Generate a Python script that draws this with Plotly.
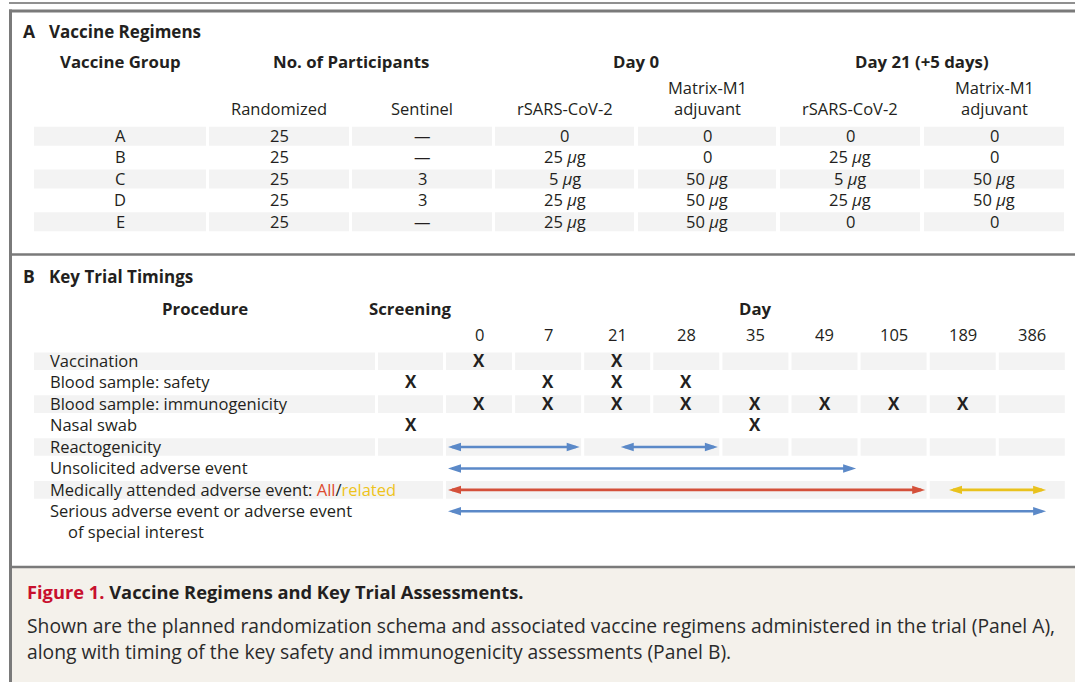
import plotly.graph_objects as go

# ---------------- data ----------------
groups = ["A", "B", "C", "D", "E"]
randomized = [25, 25, 25, 25, 25]
sentinel = [None, None, 3, 3, None]
day0_rsars = [0, 25, 5, 25, 25]
day0_matrix = [0, 0, 50, 50, 50]
day21_rsars = [0, 25, 5, 25, 0]
day21_matrix = [0, 0, 50, 50, 0]

timepoints = ["Screening", "0", "7", "21", "28", "35", "49", "105", "189", "386"]
day_labels = timepoints[1:]

procedures = [
    "Vaccination",
    "Blood sample: safety",
    "Blood sample: immunogenicity",
    "Nasal swab",
    "Reactogenicity",
    "Unsolicited adverse event",
    "Medically attended adverse event",
    "Serious adverse event or adverse event",
]
x_marks = {
    "Vaccination": ["0", "21"],
    "Blood sample: safety": ["Screening", "7", "21", "28"],
    "Blood sample: immunogenicity": ["0", "7", "21", "28", "35", "49", "105", "189"],
    "Nasal swab": ["Screening", "35"],
}
# assessment periods in day-column units (0 = start of the Day 0 column)
periods = {
    "Reactogenicity": [(0.0, 2.0, "blue"), (2.5, 4.0, "blue")],
    "Unsolicited adverse event": [(0.0, 6.0, "blue")],
    "Medically attended adverse event": [(0.0, 7.0, "red"), (7.25, 8.75, "yellow")],
    "Serious adverse event or adverse event": [(0.0, 8.75, "blue")],
}
# merged shaded cells in Panel B
merges = {
    "Reactogenicity": [("0", "7"), ("21", "28")],
    "Medically attended adverse event": [("Procedure", "Screening"), ("0", "105"), ("189", "386")],
}

# ---------------- style / layout ----------------
W, H = 1075, 682
FONT = "Open Sans"
TXT = "#231f20"
BAND = "#f3f3f3"
FRAME = "#7a7a7a"
COL = {"blue": "#5b89c8", "red": "#d4503a", "yellow": "#e9c21d"}
FS = 16.5
HS = 16.8
DY = -0.8  # small vertical text offset

shapes = []
ann = []


def text(x, y, s, size=FS, bold=False, anchor="center", color=TXT):
    if bold:
        s = "<b>" + s + "</b>"
    ann.append(dict(x=x, y=y + DY, xref="x", yref="y", text=s, showarrow=False,
                    xanchor=anchor, yanchor="middle",
                    font=dict(family=FONT, size=size, color=color)))


def rect(x0, x1, y0, y1, color):
    shapes.append(dict(type="rect", xref="x", yref="y", x0=x0, x1=x1, y0=y0, y1=y1,
                       fillcolor=color, line=dict(width=0), layer="below"))


def hline(x0, x1, y, color, w):
    shapes.append(dict(type="line", xref="x", yref="y", x0=x0, x1=x1, y0=y, y1=y,
                       line=dict(color=color, width=w)))


# frame
hline(9, W, 3, "#222222", 1.2)
rect(11.5, W, 568, H, "#f4f1eb")
hline(9, W, 11, FRAME, 3)
shapes.append(dict(type="line", xref="x", yref="y", x0=10.5, x1=10.5, y0=9.5, y1=H,
                   line=dict(color=FRAME, width=3)))
hline(10, W, 254.5, FRAME, 2.5)
hline(10, W, 567, FRAME, 2.5)

# ---------------- Panel A ----------------
text(21, 32, "A", size=17.5, bold=True, anchor="left")
text(47, 32, "Vaccine Regimens", size=17, bold=True, anchor="left")
colsA = [(34, 206), (209, 349), (352, 492), (495, 634), (638, 776), (780, 920), (924, 1064)]
cA = [(a + b) / 2 for a, b in colsA]
text(cA[0], 62, "Vaccine Group", size=HS, bold=True)
text((colsA[1][0] + colsA[2][1]) / 2, 62, "No. of Participants", size=HS, bold=True)
text((colsA[3][0] + colsA[4][1]) / 2, 62, "Day 0", size=HS, bold=True)
text((colsA[5][0] + colsA[6][1]) / 2, 62, "Day 21 (+5 days)", size=HS, bold=True)
sub_y, sub_y0 = 109.5, 88
text(cA[1], sub_y, "Randomized")
text(cA[2], sub_y, "Sentinel")
for ci in (3, 5):
    text(cA[ci], sub_y, "rSARS-CoV-2")
for ci in (4, 6):
    text(cA[ci], sub_y0, "Matrix-M1")
    text(cA[ci], sub_y, "adjuvant")


def dose(v):
    return "0" if v == 0 else f"{v} <i>μ</i>g"


rowA0, pitchA = 136.2, 21.4
for i, g in enumerate(groups):
    y = rowA0 + i * pitchA
    if i % 2 == 0:
        for a, b in colsA:
            rect(a, b, y - 9.5, y + 9.5, BAND)
    vals = [g, str(randomized[i]), "—" if sentinel[i] is None else str(sentinel[i]),
            dose(day0_rsars[i]), dose(day0_matrix[i]), dose(day21_rsars[i]), dose(day21_matrix[i])]
    for ci, v in enumerate(vals):
        text(cA[ci], y, v)

# ---------------- Panel B ----------------
text(21, 277, "B", size=17.5, bold=True, anchor="left")
text(47, 277, "Key Trial Timings", size=17, bold=True, anchor="left")

D0, STEP, CW = 446.0, 69.1, 66.0
colsB = {"Procedure": (34, 375), "Screening": (378, 443)}
for i, d in enumerate(day_labels):
    colsB[d] = (D0 + STEP * i, D0 + STEP * i + CW)
order = ["Procedure"] + timepoints


def cx(k):
    a, b = colsB[k]
    return (a + b) / 2


def ux(u):
    return D0 + STEP * u


text(cx("Procedure"), 309, "Procedure", size=HS, bold=True)
text(cx("Screening"), 309, "Screening", size=HS, bold=True)
text((colsB["0"][0] + colsB["386"][1]) / 2, 309, "Day", size=HS, bold=True)
for d in day_labels:
    text(cx(d), 335, d)

rowB0, pitchB = 361.3, 21.43
for r, p in enumerate(procedures):
    y = rowB0 + r * pitchB
    if r % 2 == 0:
        spans = [(k, k) for k in order]
        for a, b in merges.get(p, []):
            ia, ib = order.index(a), order.index(b)
            spans = [s for s in spans if not (ia <= order.index(s[0]) <= ib)]
            spans.append((a, b))
        for a, b in spans:
            rect(colsB[a][0], colsB[b][1], y - 8.8, y + 8.8, BAND)
    if p == "Medically attended adverse event":
        label = (p + ": <span style='color:#dd4b2f'>All</span>/"
                 "<span style='color:#eec31c'>related</span>")
    else:
        label = p
    text(48, y, label, anchor="left")
    if p == "Serious adverse event or adverse event":
        text(66, y + pitchB, "of special interest", anchor="left")
    for t in x_marks.get(p, []):
        text(cx(t), y, "X", size=17, bold=True)
    for u0, u1, c in periods.get(p, []):
        x0, x1 = ux(u0) + 2, ux(u1) - 4.5
        L, h = 13, 4.2
        col = COL[c]
        shapes.append(dict(type="line", xref="x", yref="y", x0=x0 + 4, x1=x1 - 4, y0=y, y1=y,
                           line=dict(color=col, width=2.6)))
        shapes.append(dict(type="path", xref="x", yref="y",
                           path=f"M {x0},{y} L {x0 + L},{y - h} L {x0 + L},{y + h} Z",
                           fillcolor=col, line=dict(width=0)))
        shapes.append(dict(type="path", xref="x", yref="y",
                           path=f"M {x1},{y} L {x1 - L},{y - h} L {x1 - L},{y + h} Z",
                           fillcolor=col, line=dict(width=0)))

# ---------------- caption ----------------
text(25, 592.5, "<span style='color:#c8102e'>Figure 1.</span> Vaccine Regimens and Key Trial Assessments.",
     size=18.3, bold=True, anchor="left")
text(25, 626, "Shown are the planned randomization schema and associated vaccine regimens administered in the trial (Panel A),",
     size=19.3, anchor="left", color="#2b2b2b")
text(25, 652, "along with timing of the key safety and immunogenicity assessments (Panel B).",
     size=19.3, anchor="left", color="#2b2b2b")

fig = go.Figure()
fig.update_layout(
    width=W, height=H, margin=dict(l=0, r=0, t=0, b=0),
    paper_bgcolor="white", plot_bgcolor="white",
    xaxis=dict(range=[0, W], visible=False, fixedrange=True),
    yaxis=dict(range=[H, 0], visible=False, fixedrange=True),
    shapes=shapes, annotations=ann, showlegend=False,
)
fig.write_html("out.html", config={"displayModeBar": False, "staticPlot": True},
               post_script="document.body.style.margin='0';document.body.style.overflow='hidden';")
